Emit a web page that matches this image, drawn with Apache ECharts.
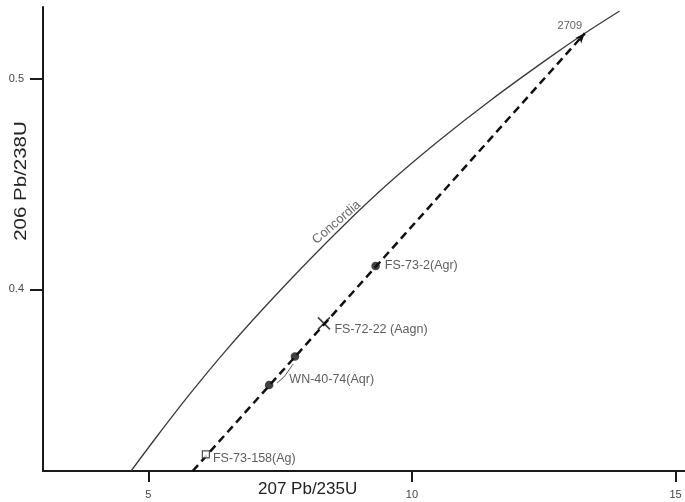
<!DOCTYPE html>
<html>
<head>
<meta charset="utf-8">
<script src="https://cdn.jsdelivr.net/npm/echarts@6/dist/echarts.min.js"></script>
<style>
html,body{margin:0;padding:0;background:#fff;}
#chart{width:685px;height:502px;}
</style>
</head>
<body>
<div id="chart"></div>
<script>
// Concordia curve
const concordiaX = [4.67, 5.16, 5.78, 6.44, 7.15, 7.90, 8.69, 9.54, 10.48, 11.50, 12.60, 13.28, 13.94];
const concordiaY = [0.3136, 0.33, 0.35, 0.37, 0.39, 0.41, 0.43, 0.45, 0.47, 0.49, 0.51, 0.5217, 0.5323];
// Discordia line
const discordiaX = [5.84, 13.28];
const discordiaY = [0.3136, 0.5217];
// Samples
const circleNames = ['FS-73-2(Agr)', '', ''];
const circleX = [9.31, 7.78, 7.29];
const circleY = [0.4111, 0.3680, 0.3545];
const crossNames = ['FS-72-22 (Aagn)'];
const crossX = [8.33];
const crossY = [0.3838];
const squareNames = ['FS-73-158(Ag)'];
const squareX = [6.09];
const squareY = [0.3215];
// Bracket joining the two WN-40-74 points
const braceX = [7.746, 7.626, 7.560, 7.437];
const braceY = [0.3645, 0.3602, 0.3581, 0.3554];
const braceLabel = 'WN-40-74(Aqr)';
// Annotations
const interceptLabel = '2709';
const curveLabel = 'Concordia';
const curveLabelX = 8.57, curveLabelY = 0.4318;
// Axes
const xMin = 3, xMax = 15.18;
const yMin = 0.3136, yMax = 0.5342;
const xTicks = [5, 10, 15];
const yTicks = [0.4, 0.5];
const xTitle = '207 Pb/235U';
const yTitle = '206 Pb/238U';

const FONT = 'Liberation Sans, Arial, sans-serif';
const zip = (a, b) => a.map((v, i) => [v, b[i]]);

const chart = echarts.init(document.getElementById('chart'), null, {renderer: 'canvas'});
const labelStyle = {fontFamily: FONT, fontSize: 12.5, color: '#333'};

chart.setOption({
  animation: false,
  backgroundColor: '#fff',
  grid: {left: 43, right: 0, top: 7, bottom: 31},
  xAxis: {
    type: 'value', min: xMin, max: xMax,
    axisLine: {lineStyle: {color: '#1a1a1a', width: 2}},
    axisTick: {show: true, length: 11, customValues: xTicks, lineStyle: {color: '#1a1a1a', width: 2}},
    axisLabel: {customValues: xTicks, margin: 18, fontFamily: FONT, fontSize: 11, color: '#444'},
    splitLine: {show: false}
  },
  yAxis: {
    type: 'value', min: yMin, max: yMax,
    axisLine: {show: true, lineStyle: {color: '#1a1a1a', width: 2}},
    axisTick: {show: true, length: 13, customValues: yTicks, lineStyle: {color: '#1a1a1a', width: 2}},
    axisLabel: {customValues: yTicks, margin: 19, fontFamily: FONT, fontSize: 11, color: '#444',
      formatter: v => v.toFixed(1)},
    splitLine: {show: false}
  },
  graphic: [
    {type: 'text', left: 258, top: 481, style: {text: xTitle, font: '17px ' + FONT, fill: '#222'}},
    {type: 'text', x: 21.5, y: 181, rotation: Math.PI / 2, scaleX: 1.28,
      style: {text: yTitle, font: '16px ' + FONT, fill: '#222', align: 'center', verticalAlign: 'middle'}}
  ],
  series: [
    {
      type: 'line', name: 'Concordia', data: zip(concordiaX, concordiaY), smooth: 0.3,
      showSymbol: false, symbol: 'none',
      lineStyle: {color: '#3a3a3a', width: 1.3}, z: 2
    },
    {
      type: 'line', name: 'Discordia',
      data: zip(discordiaX, discordiaY).map((p, i) => i === 1
        ? {value: p, symbol: 'arrow', symbolSize: [6, 10], symbolRotate: -42, itemStyle: {color: '#111'}}
        : {value: p, symbol: 'none'}),
      showSymbol: true,
      lineStyle: {color: '#111', width: 2.5, type: [8, 5]}, z: 3
    },
    {
      type: 'line', name: 'brace', data: zip(braceX, braceY),
      smooth: true, symbol: 'none', showSymbol: false,
      lineStyle: {color: '#444', width: 1}, z: 3
    },
    {
      type: 'scatter', name: 'braceLabel', symbolSize: 0, silent: true,
      data: [{value: [braceX[2], braceY[2]],
        label: {show: true, formatter: braceLabel, position: 'right', distance: 6, offset: [0, 2], ...labelStyle}}],
      z: 6
    },
    {
      type: 'scatter', name: 'circles', symbol: 'circle', symbolSize: 8.5,
      data: zip(circleX, circleY).map((p, i) => ({value: p, name: circleNames[i],
        label: {show: !!circleNames[i], formatter: circleNames[i], position: 'right', distance: 5, ...labelStyle}})),
      itemStyle: {color: '#111'}, z: 5
    },
    {
      type: 'scatter', name: 'cross', symbol: 'path://M0,0L10,10M10,0L0,10', symbolSize: 12,
      data: zip(crossX, crossY).map((p, i) => ({value: p, name: crossNames[i],
        label: {show: true, formatter: crossNames[i], position: 'right', distance: 2, offset: [0, 6], ...labelStyle}})),
      itemStyle: {color: 'none', borderColor: '#111', borderWidth: 1.6}, z: 5
    },
    {
      type: 'scatter', name: 'square', symbol: 'rect', symbolSize: 7,
      data: zip(squareX, squareY).map((p, i) => ({value: p, name: squareNames[i],
        label: {show: true, formatter: squareNames[i], position: 'right', distance: 3, offset: [0, 4], ...labelStyle}})),
      itemStyle: {color: '#fff', borderColor: '#222', borderWidth: 1.2}, z: 5
    },
    {
      type: 'scatter', name: 'annotations', symbolSize: 0,
      data: [
        {value: [discordiaX[1], discordiaY[1]],
          label: {show: true, formatter: interceptLabel, position: 'inside', offset: [-15, -7],
            fontFamily: FONT, fontSize: 11, color: '#333'}},
        {value: [curveLabelX, curveLabelY],
          label: {show: true, formatter: curveLabel, position: 'inside', rotate: 41,
            fontFamily: FONT, fontSize: 13, color: '#444'}}
      ],
      silent: true, z: 6
    }
  ]
});
</script>
</body>
</html>
